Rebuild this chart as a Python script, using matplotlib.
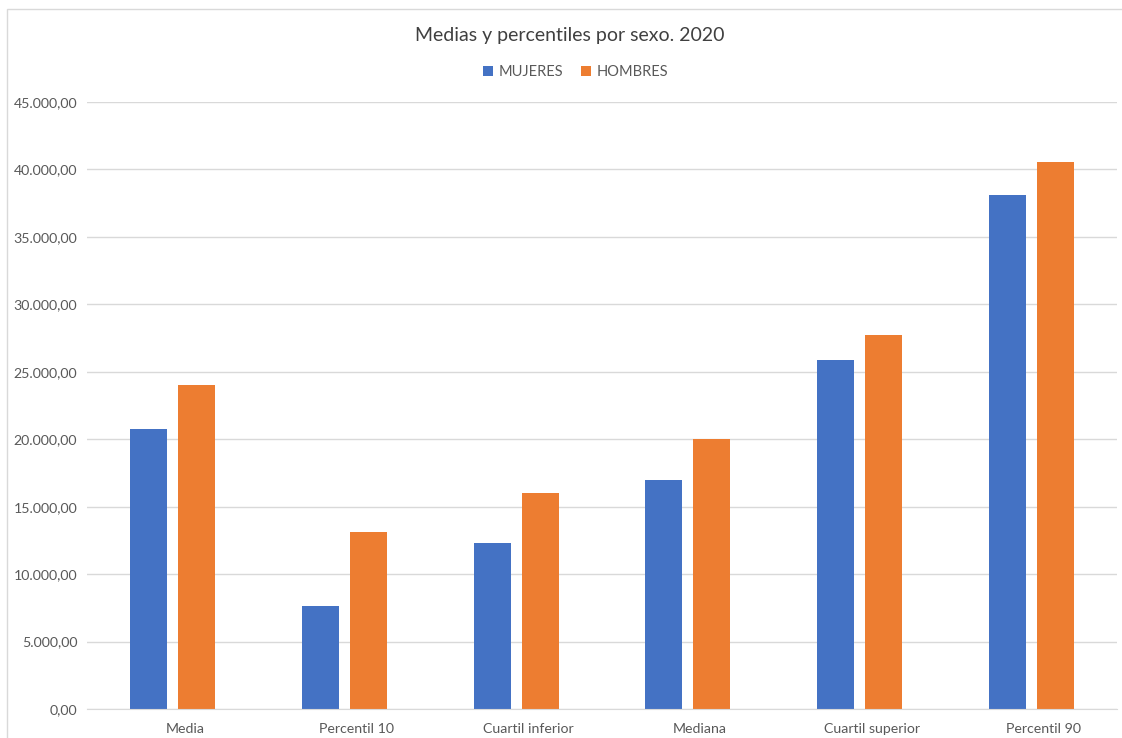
import matplotlib
matplotlib.use('Agg')
from matplotlib import pyplot as plt
from matplotlib.patches import Rectangle
import matplotlib.transforms as mtransforms
import numpy as np

categories = ['Media', 'Percentil 10', 'Cuartil inferior', 'Mediana', 'Cuartil superior', 'Percentil 90']
mujeres = [20750, 7600, 12300, 17000, 25900, 38100]
hombres = [24050, 13100, 16050, 20000, 27750, 40550]
yticks = [0, 5000, 10000, 15000, 20000, 25000, 30000, 35000, 40000, 45000]

blue = '#4472c4'
orange = '#ed7d31'
grey_text = '#595959'

plt.rcParams['font.family'] = ['Lato', 'DejaVu Sans']


def fmt(v):
    # spanish style: 45.000,00
    s = '{:,.2f}'.format(v)
    return s.replace(',', 'X').replace('.', ',').replace('X', '.')


fig = plt.figure(figsize=(11.22, 7.38), dpi=100)
ax = fig.add_axes([87 / 1122, 1 - 709 / 738, 1030 / 1122, 607 / 738])

x = np.arange(len(categories))
w = 0.216
off = 0.14
ax.bar(x - off, mujeres, w, color=blue, label='MUJERES', zorder=3)
ax.bar(x + off, hombres, w, color=orange, label='HOMBRES', zorder=3)

ax.set_xlim(-0.5, len(categories) - 0.5)
ax.set_ylim(0, 45000)
ax.set_yticks(yticks)
ax.set_yticklabels([fmt(v) for v in yticks])
ax.set_xticks(x)
ax.set_xticklabels(categories)
ax.tick_params(axis='both', length=0, labelsize=10.2, colors=grey_text)
ax.tick_params(axis='y', pad=7)
ax.tick_params(axis='x', pad=10)
ax.grid(axis='y', color='#d9d9d9', linewidth=1, zorder=0)
for s in ['left', 'right', 'top']:
    ax.spines[s].set_visible(False)
ax.spines['bottom'].set_color('#d9d9d9')
ax.spines['bottom'].set_zorder(4)

# excel puts category labels a bit to the right of the bar pairs
shift = mtransforms.ScaledTranslation(12 / 100, 0, fig.dpi_scale_trans)
for lbl in ax.get_xticklabels():
    lbl.set_transform(lbl.get_transform() + shift)

fig.text(0.508, 1 - 35 / 738, 'Medias y percentiles por sexo. 2020', ha='center', va='center',
         fontsize=14, color='#404040')
fig.legend(loc='center', bbox_to_anchor=(0.513, 1 - 72 / 738), ncol=2, frameon=False,
           fontsize=10.5, labelcolor=grey_text, handlelength=0.7, handleheight=0.7,
           handletextpad=0.4, columnspacing=1.2)

fig.patches.append(Rectangle((6.5 / 1122, -0.01), 1.1, 1 - 8.5 / 738 + 0.01,
                             transform=fig.transFigure, fill=False, edgecolor='#d9d9d9', linewidth=1))

fig.savefig('out.png', dpi=100)
